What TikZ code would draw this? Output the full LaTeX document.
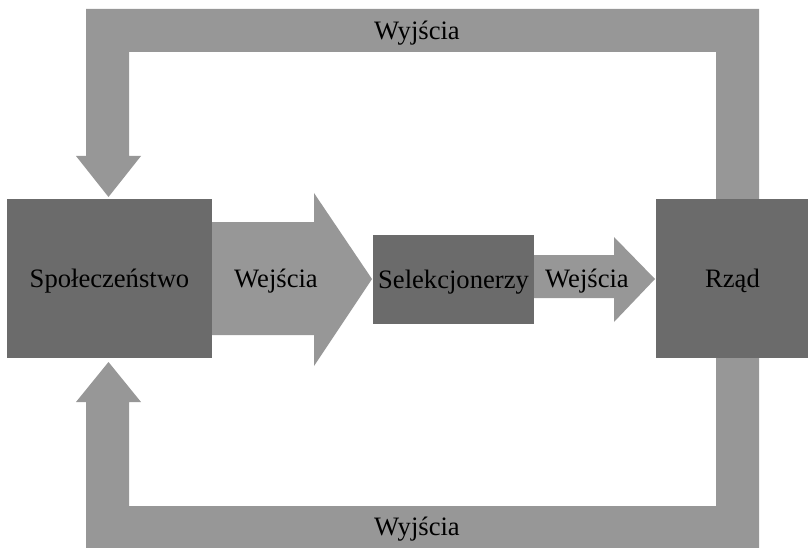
\documentclass[tikz,border=0pt]{standalone}
\usepackage{fontspec}
\setmainfont{Liberation Serif}
\definecolor{boxgray}{RGB}{107,107,107}
\definecolor{arrowgray}{RGB}{151,151,151}
\tikzset{
  blockbox/.style={fill=boxgray, draw=none, inner sep=0pt, outer sep=0pt, anchor=north west},
  blockarrow/.style={fill=arrowgray, draw=none},
  lbl/.style={font=\fontsize{26.6}{31}\selectfont, text=black, inner sep=0pt, yshift=-2.5pt}
}
\begin{document}
\begin{tikzpicture}[x=1pt,y=-1pt]
\useasboundingbox (0,0) rectangle (808,548);
% feedback loops (behind boxes)
\fill[blockarrow] (716,199) -- (716,52) -- (129,52) -- (129,156) -- (141,156) -- (108.5,197) -- (76,156) -- (86,156) -- (86,9) -- (759,9) -- (759,199) -- cycle;
\fill[blockarrow] (716,358) -- (716,506) -- (129,506) -- (129,402) -- (141,402) -- (108.5,362) -- (76,402) -- (86,402) -- (86,549) -- (759,549) -- (759,358) -- cycle;
% boxes
\node[blockbox, minimum width=205pt, minimum height=159pt] (spol) at (7,199) {};
\node[blockbox, minimum width=161pt, minimum height=89pt] (sel) at (373,235) {};
\node[blockbox, minimum width=153pt, minimum height=159pt] (rzad) at (656,199) {};
% forward arrows
\fill[blockarrow] (212,222) -- (314,222) -- (314,193) -- (372,279) -- (314,366) -- (314,335) -- (212,335) -- cycle;
\fill[blockarrow] (534,255) -- (614,255) -- (614,237) -- (655,279) -- (614,322) -- (614,298) -- (534,298) -- cycle;
% labels
\node[lbl] (tspol) at (spol.center) {Społeczeństwo};
\node[lbl] (tsel) at (sel.center) {Selekcjonerzy};
\node[lbl] (trzad) at (rzad.center) {Rząd};
\node[lbl] (win1) at (276,279) {Wejścia};
\node[lbl] (win2) at (587,279) {Wejścia};
\node[lbl] (wout1) at (417,31) {Wyjścia};
\node[lbl] (wout2) at (417,527) {Wyjścia};
\end{tikzpicture}
\end{document}
